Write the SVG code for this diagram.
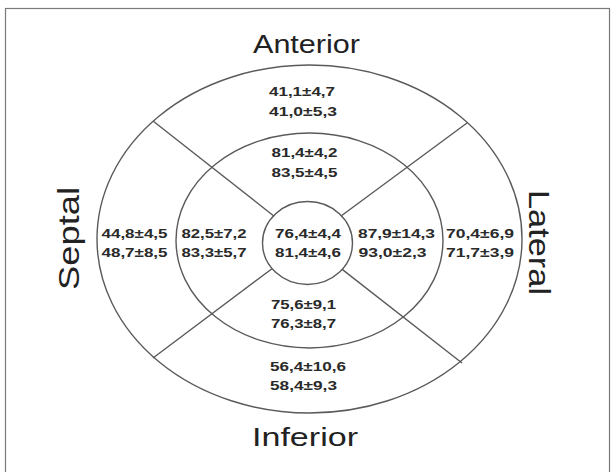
<svg xmlns="http://www.w3.org/2000/svg" width="616" height="472" viewBox="0 0 616 472">
<style>
.ring{fill:none;stroke:#5a5a5a;stroke-width:1.4}
.conn{stroke:#5a5a5a;stroke-width:1.4}
.num{font-family:"Liberation Sans",Arial,sans-serif;font-size:13px;font-weight:bold;fill:#2a2a2a}
.lab{font-family:"Liberation Sans",Arial,sans-serif;font-size:25px;fill:#222}
</style>
<rect x="0" y="0" width="616" height="472" fill="#fff"/>
<rect x="5.5" y="8.5" width="604" height="470" fill="none" stroke="#7a7a7a" stroke-width="1.2"/>
<g id="rings">
<ellipse id="outer" class="ring" cx="309.5" cy="239" rx="212.5" ry="174"/>
<ellipse id="middle" class="ring" cx="309.5" cy="240.5" rx="133.5" ry="107.5"/>
<ellipse id="inner" class="ring" cx="307.5" cy="243" rx="45" ry="41.5"/>
</g>
<g id="connectors">
<line class="conn" x1="153" y1="121" x2="273.5" y2="215.7"/>
<line class="conn" x1="467" y1="123" x2="341.4" y2="215.7"/>
<line class="conn" x1="153" y1="358" x2="272" y2="268.7"/>
<line class="conn" x1="462" y1="363" x2="342.2" y2="269.4"/>
</g>
<g id="anterior-label"><text class="lab" x="253" y="53" textLength="107" lengthAdjust="spacingAndGlyphs">Anterior</text></g>
<g id="inferior-label"><text class="lab" x="252" y="446" textLength="106" lengthAdjust="spacingAndGlyphs">Inferior</text></g>
<g id="septal-label"><text class="lab" font-size="29" transform="translate(79,238.5) rotate(-90)" text-anchor="middle" textLength="103" lengthAdjust="spacingAndGlyphs" style="font-size:29px">Septal</text></g>
<g id="lateral-label"><text class="lab" transform="translate(529,242.5) rotate(90)" text-anchor="middle" textLength="105" lengthAdjust="spacingAndGlyphs" style="font-size:29px">Lateral</text></g>
<g id="anterior-outer">
<text class="num" x="269" y="96" textLength="66" lengthAdjust="spacingAndGlyphs">41,1±4,7</text>
<text class="num" x="269" y="115.5" textLength="68" lengthAdjust="spacingAndGlyphs">41,0±5,3</text>
</g>
<g id="anterior-middle">
<text class="num" x="271.5" y="156.5" textLength="66" lengthAdjust="spacingAndGlyphs">81,4±4,2</text>
<text class="num" x="271.5" y="176.5" textLength="66" lengthAdjust="spacingAndGlyphs">83,5±4,5</text>
</g>
<g id="apex">
<text class="num" x="275" y="237.5" textLength="66" lengthAdjust="spacingAndGlyphs">76,4±4,4</text>
<text class="num" x="275" y="256.5" textLength="66" lengthAdjust="spacingAndGlyphs">81,4±4,6</text>
</g>
<g id="septal-outer">
<text class="num" x="101.5" y="237.5" textLength="66" lengthAdjust="spacingAndGlyphs">44,8±4,5</text>
<text class="num" x="101.5" y="256.5" textLength="66" lengthAdjust="spacingAndGlyphs">48,7±8,5</text>
</g>
<g id="septal-middle">
<text class="num" x="181.5" y="237.5" textLength="65" lengthAdjust="spacingAndGlyphs">82,5±7,2</text>
<text class="num" x="181.5" y="256.5" textLength="65" lengthAdjust="spacingAndGlyphs">83,3±5,7</text>
</g>
<g id="lateral-middle">
<text class="num" x="358" y="237.5" textLength="77" lengthAdjust="spacingAndGlyphs">87,9±14,3</text>
<text class="num" x="358.5" y="256.5" textLength="68" lengthAdjust="spacingAndGlyphs">93,0±2,3</text>
</g>
<g id="lateral-outer">
<text class="num" x="446" y="237.5" textLength="68" lengthAdjust="spacingAndGlyphs">70,4±6,9</text>
<text class="num" x="446" y="256.5" textLength="68" lengthAdjust="spacingAndGlyphs">71,7±3,9</text>
</g>
<g id="inferior-middle">
<text class="num" x="271" y="308.5" textLength="65" lengthAdjust="spacingAndGlyphs">75,6±9,1</text>
<text class="num" x="271" y="327.5" textLength="65" lengthAdjust="spacingAndGlyphs">76,3±8,7</text>
</g>
<g id="inferior-outer">
<text class="num" x="270" y="370.5" textLength="76" lengthAdjust="spacingAndGlyphs">56,4±10,6</text>
<text class="num" x="270" y="389.5" textLength="67" lengthAdjust="spacingAndGlyphs">58,4±9,3</text>
</g>
</svg>
